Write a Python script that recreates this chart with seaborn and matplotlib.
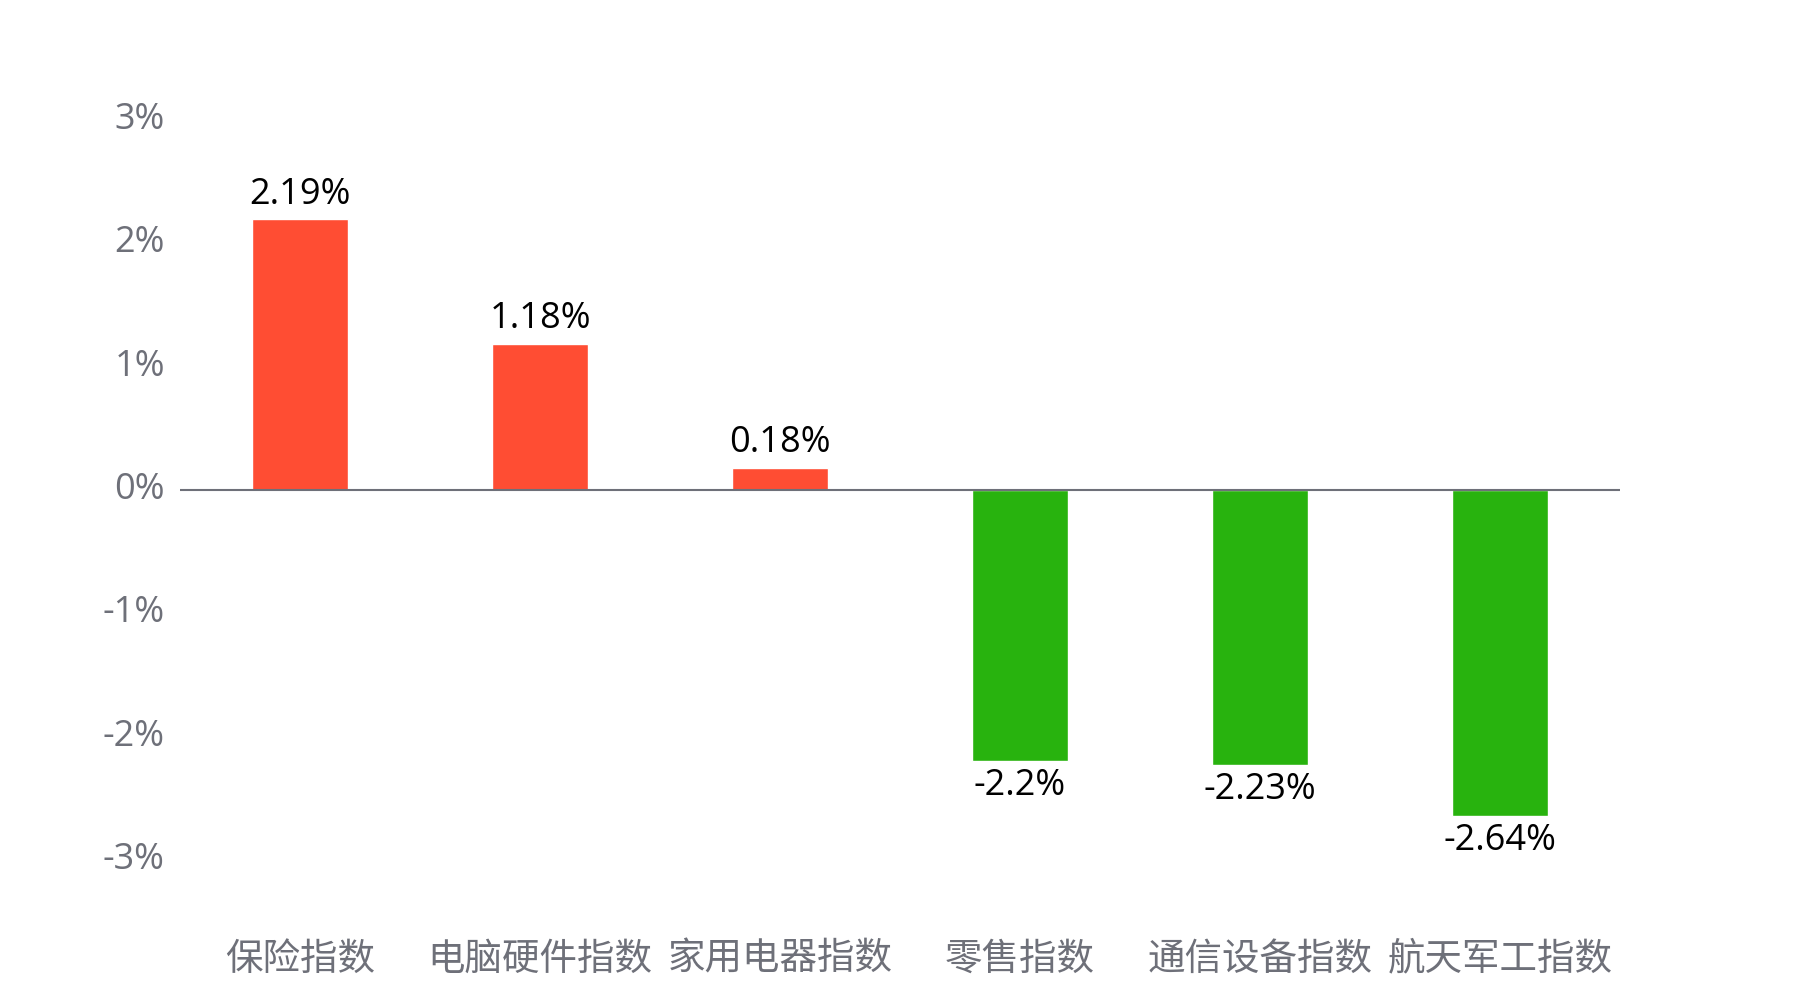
import matplotlib
matplotlib.use("Agg")
import matplotlib.pyplot as plt
import matplotlib.transforms as mtransforms
import seaborn as sns
import pandas as pd

categories = ["保险指数", "电脑硬件指数", "家用电器指数", "零售指数", "通信设备指数", "航天军工指数"]
values = [2.19, 1.18, 0.18, -2.2, -2.23, -2.64]
value_labels = ["2.19%", "1.18%", "0.18%", "-2.2%", "-2.23%", "-2.64%"]
yticks = [-3, -2, -1, 0, 1, 2, 3]
ytick_labels = ["-3%", "-2%", "-1%", "0%", "1%", "2%", "3%"]

RED = "#FF4D33"
GREEN = "#28B30E"
AXIS = "#6E7079"

sns.set_theme(style="white")
plt.rcParams["font.family"] = ["Open Sans", "Noto Sans CJK SC", "DejaVu Sans"]

df = pd.DataFrame({"cat": categories, "val": values})
colors = [RED if v >= 0 else GREEN for v in values]

fig = plt.figure(figsize=(18, 10), dpi=100)
ax = fig.add_axes([0.1, 0.140, 0.8, 0.7405])
sns.barplot(data=df, x="cat", y="val", hue="cat", palette=colors, legend=False,
            width=0.4, ax=ax, saturation=1)

ax.set_ylim(-3, 3)
ax.set_xlim(-0.5, len(categories) - 0.5)
ax.set_yticks(yticks)
ax.set_yticklabels(ytick_labels)
ax.axhline(0, color=AXIS, lw=1.5, zorder=3)
for s in ax.spines.values():
    s.set_visible(False)
ax.tick_params(axis="y", length=0, pad=11, labelsize=26, labelcolor=AXIS)
ax.tick_params(axis="x", length=0, pad=58, labelsize=27, labelcolor=AXIS)
shift = mtransforms.ScaledTranslation(0, 3 / 72, fig.dpi_scale_trans)
for t in ax.get_yticklabels():
    t.set_transform(t.get_transform() + shift)
ax.set_xlabel("")
ax.set_ylabel("")

for i, (v, lab) in enumerate(zip(values, value_labels)):
    if v >= 0:
        ax.annotate(lab, (i, v), xytext=(0, 5), textcoords="offset points",
                    ha="center", va="bottom", fontsize=26, color="black")
    else:
        ax.annotate(lab, (i, v), xytext=(0, -5), textcoords="offset points",
                    ha="center", va="top", fontsize=26, color="black")

fig.savefig("out.png", dpi=100, facecolor="white")
